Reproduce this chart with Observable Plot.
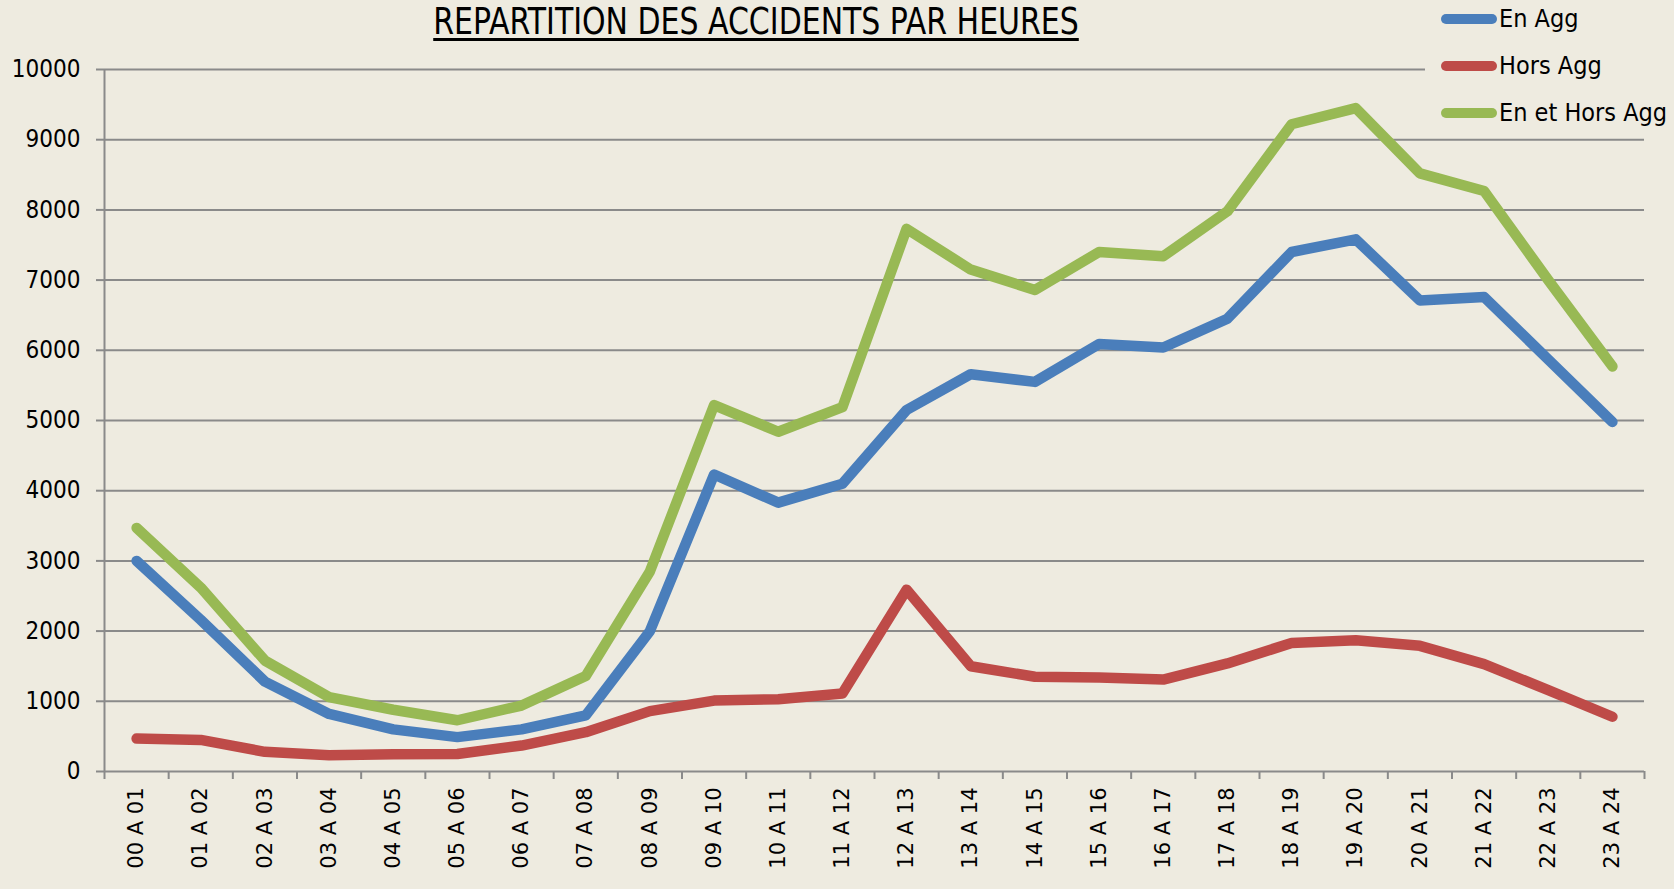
<!DOCTYPE html>
<html>
<head>
<meta charset="utf-8">
<script src="https://cdn.jsdelivr.net/npm/d3@7"></script>
<script src="https://cdn.jsdelivr.net/npm/@observablehq/plot@0.6"></script>
<style>
  body { margin: 0; background: #EEEBE0; }
  #wrap { position: relative; width: 1674px; height: 889px; overflow: hidden; background: #EEEBE0; }
  #chart { position: absolute; left: 0; top: 0; }
  #title {
    position: absolute; left: 756px; top: 3px; transform: translateX(-50%) scaleX(0.9);
    font-family: "Liberation Sans Narrow", "DejaVu Sans Condensed", sans-serif;
    font-size: 37px; line-height: 37px; white-space: nowrap; color: #000;
    text-decoration: underline; text-decoration-thickness: 3px; text-underline-offset: 4px;
  }
  #legend { position: absolute; left: 1425px; top: 0; width: 249px; height: 132px; background: #EEEBE0; }
  .item { position: absolute; left: 0; height: 30px; }
  .sw { position: absolute; left: 16px; width: 56px; height: 10px; border-radius: 5px; top: 10px; }
  .lab { position: absolute; left: 74px; top: 0; line-height: 30px; font-size: 25px; white-space: nowrap;
         font-family: "Liberation Sans Narrow", "DejaVu Sans Condensed", sans-serif; color: #000; }
</style>
</head>
<body>
<div id="wrap">
  <div id="chart"></div>
  <div id="title">REPARTITION DES ACCIDENTS PAR HEURES</div>
  <div id="legend"></div>
</div>
<script>
const categories = ["00 A 01","01 A 02","02 A 03","03 A 04","04 A 05","05 A 06","06 A 07","07 A 08",
  "08 A 09","09 A 10","10 A 11","11 A 12","12 A 13","13 A 14","14 A 15","15 A 16","16 A 17","17 A 18",
  "18 A 19","19 A 20","20 A 21","21 A 22","22 A 23","23 A 24"];
const enAgg = [3000,2160,1280,820,600,490,600,800,2000,4230,3830,4100,5150,5660,5550,6090,6040,6450,7400,7580,6710,6760,5870,4980];
const horsAgg = [470,450,280,230,245,250,370,560,860,1010,1030,1110,2590,1500,1350,1340,1310,1540,1830,1870,1790,1530,1160,780];
const enEtHorsAgg = [3470,2620,1580,1060,880,730,940,1360,2850,5220,4840,5190,7730,7150,6860,7400,7340,7980,9220,9450,8520,8270,7000,5770];
const yTicks = [0,1000,2000,3000,4000,5000,6000,7000,8000,9000,10000];
const seriesNames = ["En Agg","Hors Agg","En et Hors Agg"];
const seriesColors = ["#4A7EBB","#BE4B48","#98B954"];
const titleText = "REPARTITION DES ACCIDENTS PAR HEURES";

const seriesValues = [enAgg, horsAgg, enEtHorsAgg];
const rows = [];
seriesNames.forEach((s, k) => seriesValues[k].forEach((v, i) => rows.push({i, series: s, value: v})));
const idx = categories.map((_, i) => i);
const bounds = categories.map((_, i) => i - 0.5).concat([categories.length - 0.5]);
const gridColor = "#8a8a8a";

const chart = Plot.plot({
  width: 1674, height: 889,
  marginTop: 69, marginBottom: 118, marginLeft: 104, marginRight: 30,
  style: {background: "transparent", color: "#000"},
  x: {type: "linear", domain: [-0.5, categories.length - 0.5], label: null},
  y: {domain: [0, 10000], label: null},
  color: {domain: seriesNames, range: seriesColors},
  marks: [
    Plot.gridY(yTicks, {stroke: gridColor, strokeOpacity: 1, strokeWidth: 2}),
    Plot.ruleX([bounds[0]], {stroke: gridColor, strokeWidth: 2}),
    Plot.axisY(yTicks, {tickSize: 8, tickPadding: 16, stroke: gridColor, strokeWidth: 2, fill: "#000",
      fontSize: 24, fontFamily: "Liberation Sans Narrow, DejaVu Sans Condensed, sans-serif",
      tickFormat: d => String(d), label: null}),
    Plot.axisX(bounds, {tickSize: 8, stroke: gridColor, strokeWidth: 2, tickFormat: () => "", label: null}),
    Plot.axisX(idx, {tickSize: 0, tickPadding: 16, tickRotate: -90, fill: "#000",
      fontSize: 21, fontFamily: "DejaVu Sans, sans-serif",
      tickFormat: i => categories[i], label: null}),
    Plot.line(rows, {x: "i", y: "value", z: "series", stroke: "series", strokeWidth: 10.5,
      strokeLinejoin: "round", strokeLinecap: "round"})
  ]
});
document.getElementById("chart").appendChild(chart);
document.getElementById("title").textContent = titleText;

const legend = document.getElementById("legend");
const rowTops = [4, 51, 98];
seriesNames.forEach((s, k) => {
  const it = document.createElement("div");
  it.className = "item";
  it.style.top = rowTops[k] + "px";
  const sw = document.createElement("div");
  sw.className = "sw"; sw.style.background = seriesColors[k];
  const lab = document.createElement("div");
  lab.className = "lab"; lab.textContent = s;
  it.appendChild(sw); it.appendChild(lab);
  legend.appendChild(it);
});
</script>
</body>
</html>
